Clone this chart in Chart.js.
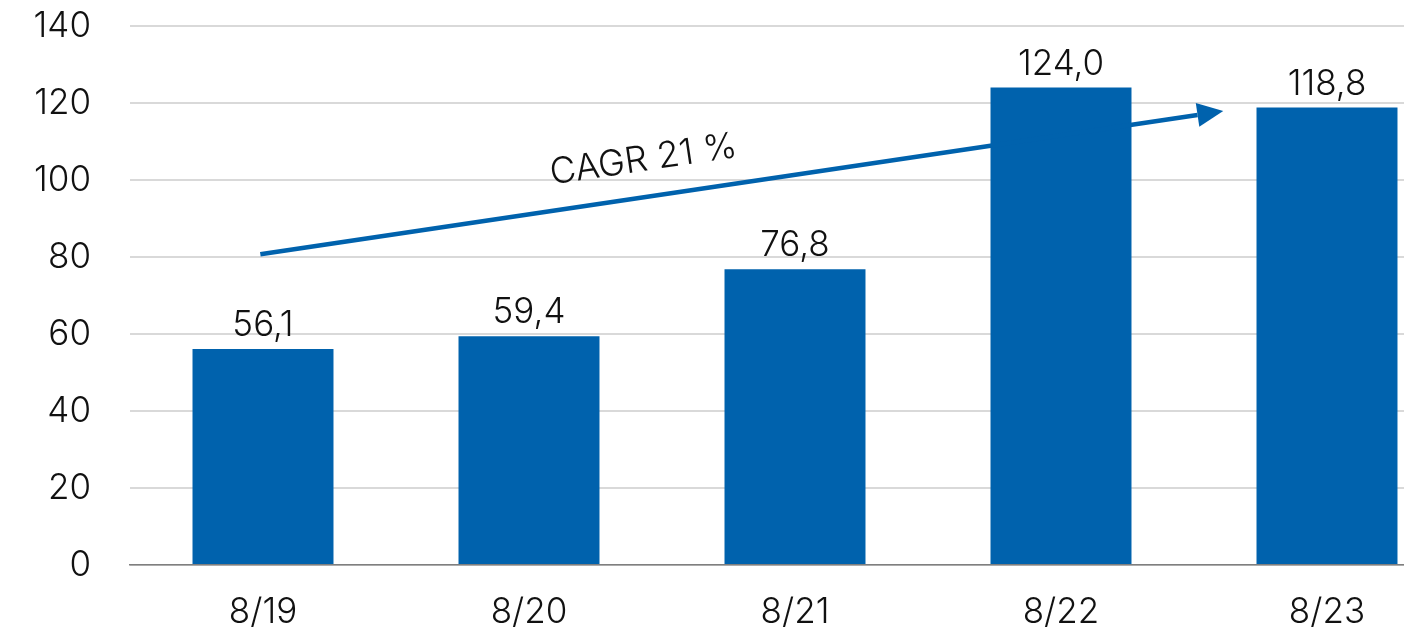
<!DOCTYPE html>
<html lang="en">
<head>
  <meta charset="UTF-8">
  <title>CAGR bar chart</title>
  <script src="https://cdn.jsdelivr.net/npm/chart.js"></script>
  <style>
    body {
      margin: 0;
      padding: 0;
      background: #fff;
      overflow: hidden;
    }
    .chart-container {
      position: relative;
      width: 1460px;
      height: 632px;
    }
  </style>
</head>
<body>
  <div class="chart-container">
    <canvas id="cagrChart"></canvas>
  </div>

  <script>
    // Data
    const categories = ['8/19', '8/20', '8/21', '8/22', '8/23'];
    const values = [56.1, 59.4, 76.8, 124.0, 118.8];
    const yTicks = [0, 20, 40, 60, 80, 100, 120, 140];

    // Trend arrow in data units (category index, value)
    const arrowFrom = [-0.01, 80.7];
    const arrowTo = [3.61, 117.9];
    const cagrLabel = 'CAGR 21 %';
    const cagrPos = [1.43, 105.2];

    const blue = '#0062ad';
    const fontFamily = 'Inter, "Noto Sans", sans-serif';
    const fontSize = 35;

    const fmt = v => v.toFixed(1).replace('.', ',');

    // Value labels above each bar
    const valueLabels = {
      id: 'valueLabels',
      afterDatasetsDraw(chart) {
        const ctx = chart.ctx;
        const meta = chart.getDatasetMeta(0);
        ctx.save();
        ctx.font = '300 ' + fontSize + 'px ' + fontFamily;
        ctx.fillStyle = '#111';
        ctx.textAlign = 'center';
        ctx.textBaseline = 'alphabetic';
        meta.data.forEach((bar, i) => {
          ctx.fillText(fmt(values[i]), bar.x, bar.y - 13);
        });
        ctx.restore();
      }
    };

    // CAGR arrow with rotated text
    const cagrArrow = {
      id: 'cagrArrow',
      afterDatasetsDraw(chart) {
        const { ctx, scales: { x, y } } = chart;
        const x1 = x.getPixelForValue(arrowFrom[0]);
        const y1 = y.getPixelForValue(arrowFrom[1]);
        const x2 = x.getPixelForValue(arrowTo[0]);
        const y2 = y.getPixelForValue(arrowTo[1]);
        const ang = Math.atan2(y2 - y1, x2 - x1);
        const headLen = 26, headW = 12;

        ctx.save();
        ctx.strokeStyle = blue;
        ctx.fillStyle = blue;
        ctx.lineWidth = 4.5;
        ctx.beginPath();
        ctx.moveTo(x1, y1);
        ctx.lineTo(x2 - headLen * Math.cos(ang), y2 - headLen * Math.sin(ang));
        ctx.stroke();

        ctx.translate(x2, y2);
        ctx.rotate(ang);
        ctx.beginPath();
        ctx.moveTo(0, 0);
        ctx.lineTo(-headLen, -headW);
        ctx.lineTo(-headLen, headW);
        ctx.closePath();
        ctx.fill();
        ctx.restore();

        ctx.save();
        ctx.translate(x.getPixelForValue(cagrPos[0]), y.getPixelForValue(cagrPos[1]));
        ctx.rotate(ang);
        ctx.font = '300 36px ' + fontFamily;
        ctx.fillStyle = '#111';
        ctx.textAlign = 'center';
        ctx.textBaseline = 'middle';
        ctx.fillText(cagrLabel, 0, 0);
        ctx.restore();
      }
    };

    const ctx = document.getElementById('cagrChart').getContext('2d');
    new Chart(ctx, {
      type: 'bar',
      data: {
        labels: categories,
        datasets: [{
          data: values,
          backgroundColor: blue,
          barPercentage: 0.53,
          categoryPercentage: 1
        }]
      },
      options: {
        responsive: true,
        maintainAspectRatio: false,
        animation: false,
        layout: { padding: { top: 0, right: 0, left: 0, bottom: 0 } },
        plugins: {
          legend: { display: false },
          tooltip: { enabled: false }
        },
        scales: {
          x: {
            grid: { display: false },
            border: { display: true, color: '#7f7f7f', width: 1.5 },
            ticks: {
              color: '#111',
              padding: 18,
              font: { family: fontFamily, size: fontSize, weight: 300 }
            },
            afterFit(scale) { scale.height = 67; }
          },
          y: {
            min: 0,
            max: 140,
            afterBuildTicks(scale) {
              scale.ticks = yTicks.map(v => ({ value: v }));
            },
            grid: { color: '#d9d9d9', lineWidth: 2, drawTicks: false },
            border: { display: false },
            ticks: {
              color: '#111',
              padding: 39,
              font: { family: fontFamily, size: fontSize, weight: 300 }
            },
            afterFit(scale) {
              scale.width = 130;
              scale.paddingTop = 26;
              scale.paddingBottom = 0;
            }
          }
        }
      },
      plugins: [valueLabels, cagrArrow]
    });
  </script>
</body>
</html>
